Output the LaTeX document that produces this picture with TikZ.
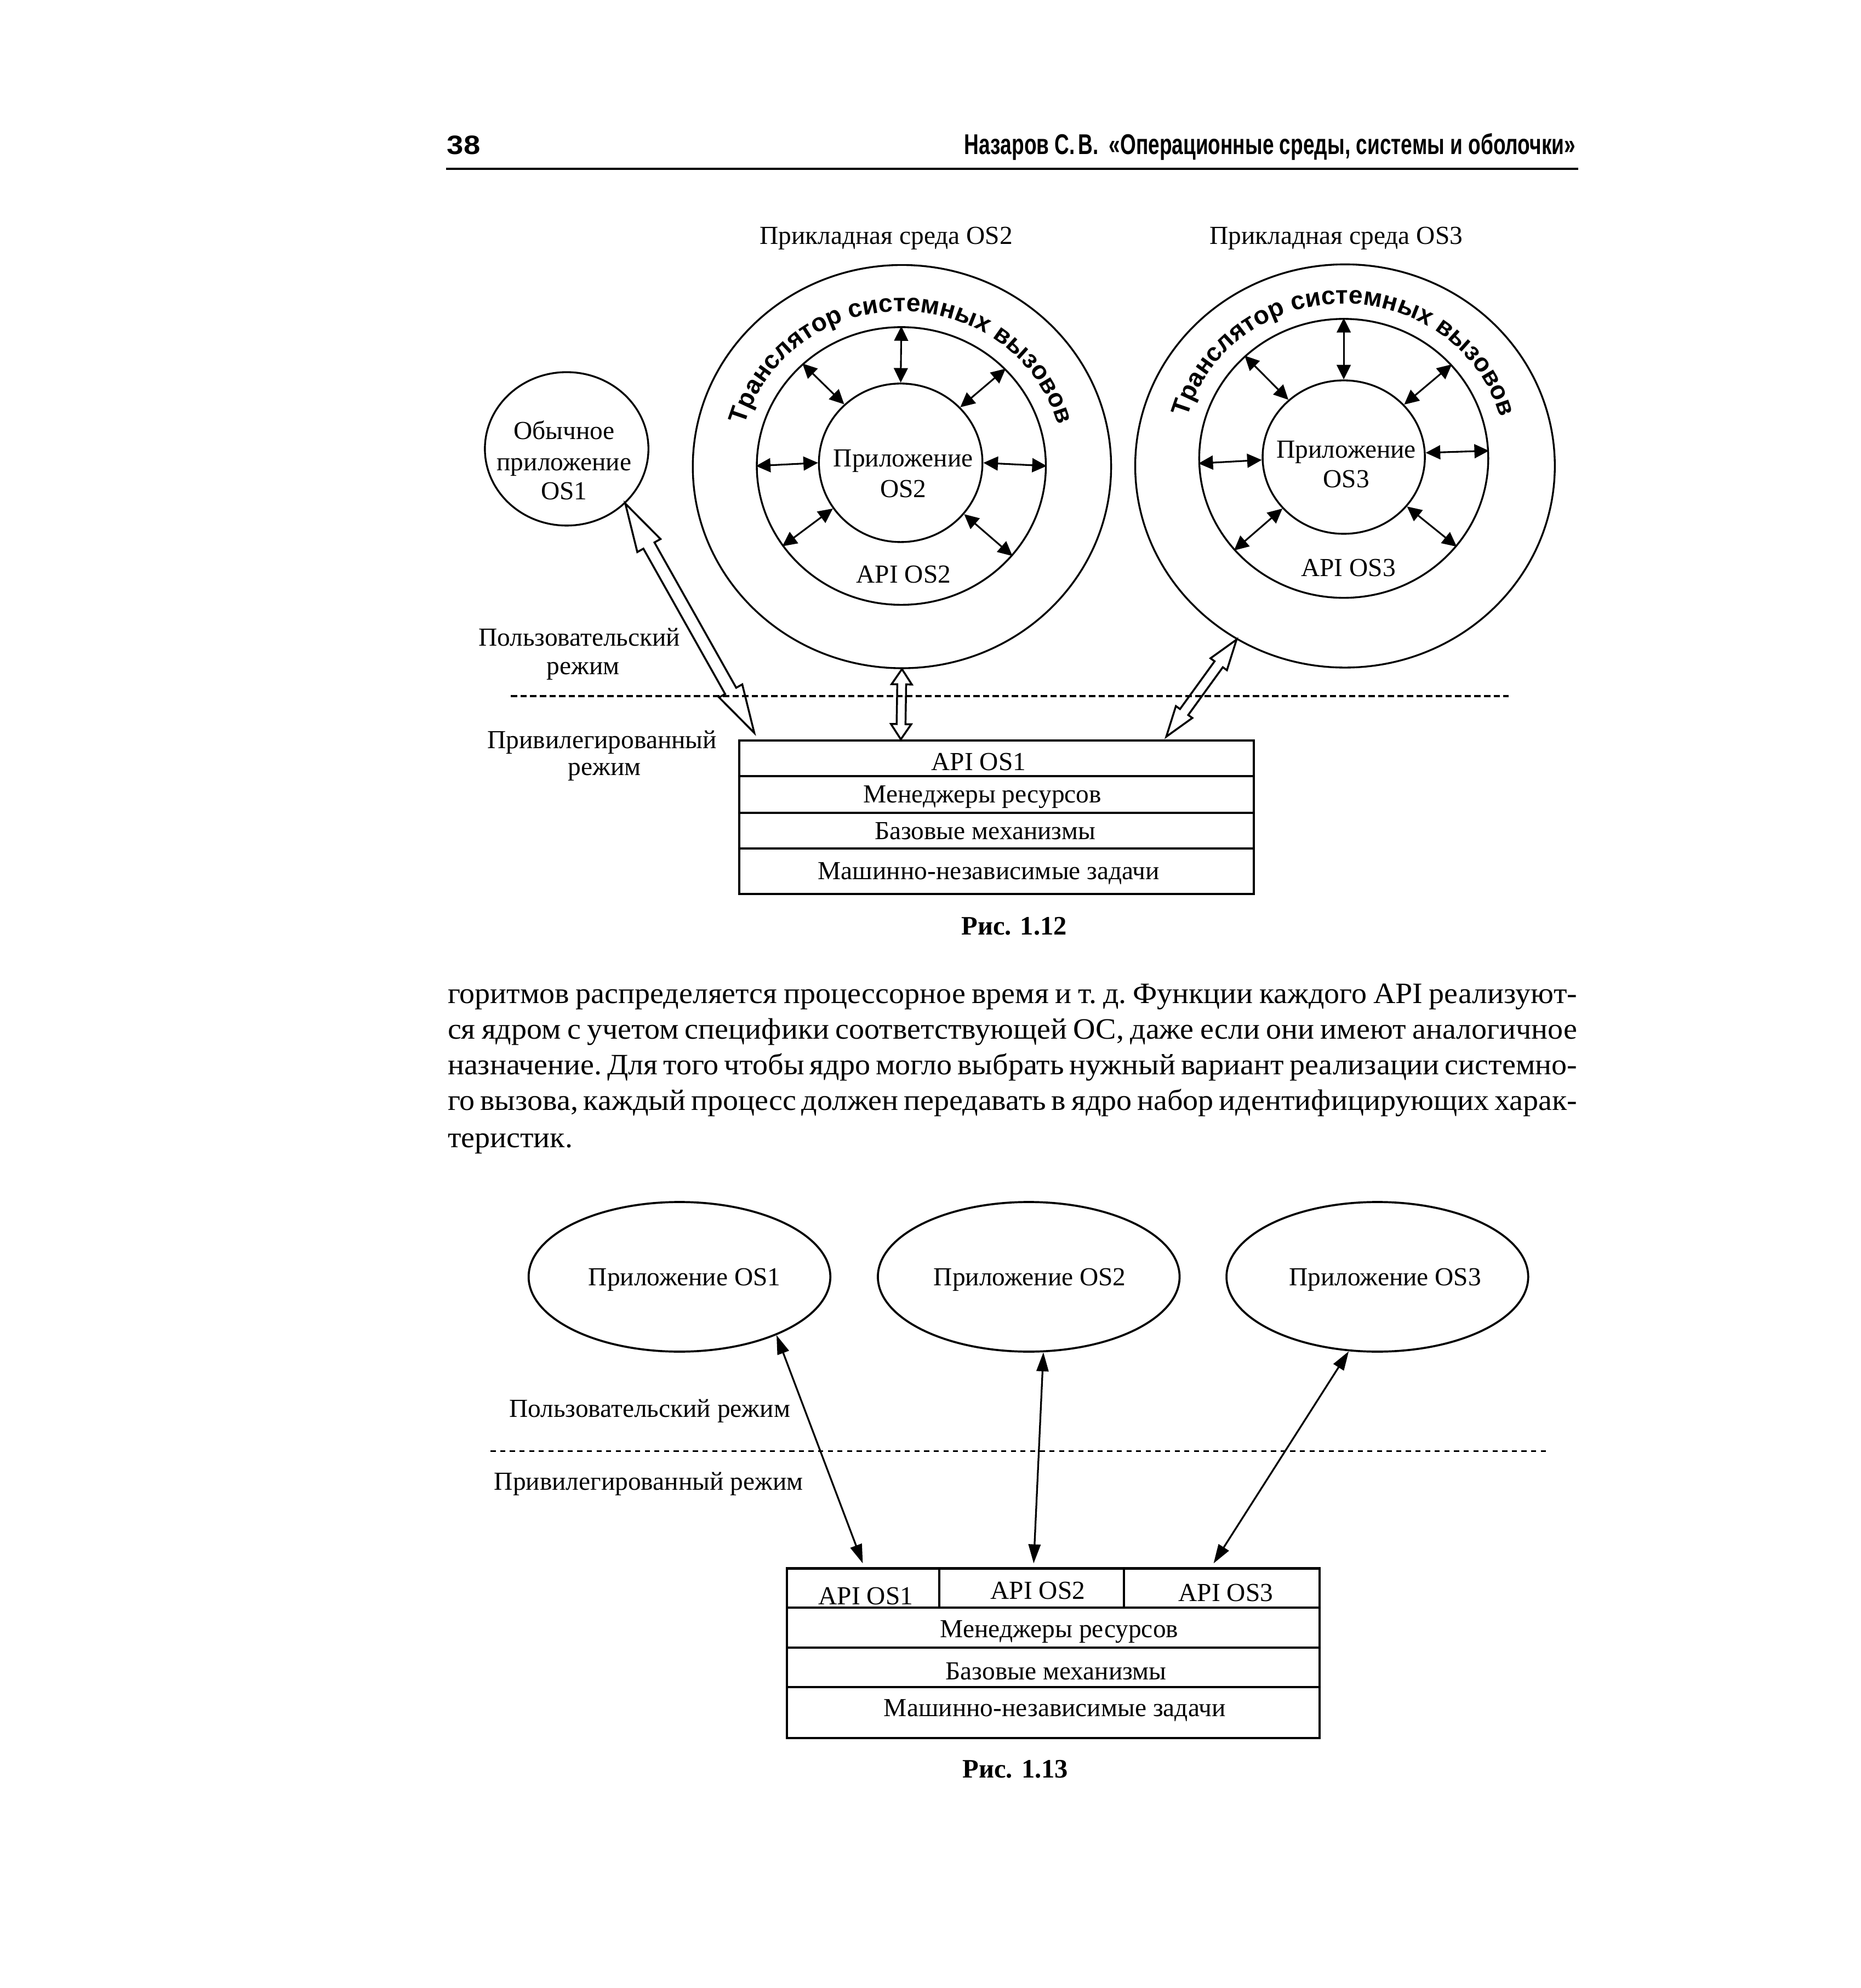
\documentclass[tikz,border=0pt]{standalone}
\usepackage{fontspec}
\usepackage{graphicx}
\setmainfont{Liberation Serif}
\newfontfamily\sansf{Liberation Sans}
\newfontfamily\bodyf[FakeStretch=1.04]{Liberation Serif}
\usetikzlibrary{shapes.geometric,arrows.meta,calc,decorations.text}
\newcommand\trtext{\sansf\bfseries\fontsize{20}{20}\selectfont}
\newcommand\hollowarrow[5]{%
\draw[harrow] (#1)
 -- ($(#1)!#3!(#2)!#4!90:(#2)$)
 -- ($(#1)!#3!(#2)!#5!90:(#2)$)
 -- ($(#2)!#3!(#1)!#5!-90:(#1)$)
 -- ($(#2)!#3!(#1)!#4!-90:(#1)$)
 -- (#2)
 -- ($(#2)!#3!(#1)!#4!90:(#1)$)
 -- ($(#2)!#3!(#1)!#5!90:(#1)$)
 -- ($(#1)!#3!(#2)!#5!-90:(#2)$)
 -- ($(#1)!#3!(#2)!#4!-90:(#2)$)
 -- cycle;}
\tikzset{
  lbl/.style={inner sep=0pt, anchor=base, font=\fontsize{20.5}{24}\selectfont},
  figcap/.style={inner sep=0pt, anchor=base, font=\bfseries\fontsize{21}{24}\selectfont},
  para/.style={inner sep=0pt, anchor=base west, font=\bodyf\fontsize{23.3}{28}\selectfont\frenchspacing},
  ringe/.style={draw, ellipse, line width=1.45pt, inner sep=0pt},
  oval/.style={draw, ellipse, line width=1.6pt, inner sep=0pt, minimum width=238pt, minimum height=118pt},
  radarr/.style={{Triangle[length=11.5pt,width=11pt]}-{Triangle[length=11.5pt,width=11pt]}, line width=1.35pt},
  thinarr/.style={{Triangle[length=15pt,width=9.5pt]}-{Triangle[length=15pt,width=9.5pt]}, line width=1.4pt},
  harrow/.style={draw, line width=1.5pt, line join=miter},
  layer/.style={draw, line width=1.8pt, inner sep=0pt},
  modeline/.style={line width=1.4pt, dash pattern=on 5pt off 2.6pt},
  modeline2/.style={line width=1.6pt, dash pattern=on 4pt off 3.6pt},
  transl/.style={decorate, decoration={text along path, text={|\trtext|Транслятор системных вызовов}, text align={center}}}
}
\begin{document}
\begin{tikzpicture}[x=1pt,y=-1pt]
\useasboundingbox (0,0) rectangle (1468,1567.9);
\fill[white] (0,0) rectangle (1468,1567.9);

% ---------- header ----------
\node[inner sep=0pt, anchor=base west, font=\sansf\bfseries\fontsize{21}{24}\selectfont] (pgnum) at (352.5,121.8) {\scalebox{1.12}[1]{38}};
\node[inner sep=0pt, anchor=base east, font=\sansf\bfseries\fontsize{22.5}{24}\selectfont] (runhead) at (1243,121.5)
  {\resizebox{482pt}{\height}{Назаров С.\,В.\hspace{0.5em}«Операционные среды, системы и оболочки»}};
\coordinate (rulel) at (352,133);
\coordinate (ruler) at (1245,133);
\draw[line width=1.8pt] (rulel) -- (ruler);

% ---------- Fig 1.12 ----------
\node[lbl] (env2) at (699,192.5) {Прикладная среда OS2};
\node[lbl] (env3) at (1054,192.5) {Прикладная среда OS3};

% OS2 environment
\node[ringe, minimum width=330pt, minimum height=318pt] (o2) at (711.5,368) {};
\node[ringe, minimum width=228pt, minimum height=219pt] (m2) at (711,367.5) {};
\node[ringe, minimum width=129pt, minimum height=125pt] (i2) at (710.5,365) {};
\node[lbl] (a2l1) at (712.5,368) {Приложение};
\node[lbl] (a2l2) at (712.5,392.5) {OS2};
\node[lbl] (api2) at (712.8,459.6) {API OS2};
\path[transl] ($(m2.center)+(178:128pt and 122pt)$) arc[start angle=178, end angle=2, x radius=128pt, y radius=122pt];
\foreach \a in {90,134,43,180,0,214,-39}
  \draw[radarr] (i2.\a) -- (m2.\a);

% OS3 environment
\node[ringe, minimum width=331pt, minimum height=318pt] (o3) at (1061,367.5) {};
\node[ringe, minimum width=228pt, minimum height=220pt] (m3) at (1060,361.5) {};
\node[ringe, minimum width=128pt, minimum height=121pt] (i3) at (1060,360.5) {};
\node[lbl] (a3l1) at (1062,361.2) {Приложение};
\node[lbl] (a3l2) at (1062,384.4) {OS3};
\node[lbl] (api3) at (1063.6,454.7) {API OS3};
\path[transl] ($(m3.center)+(178:128pt and 122pt)$) arc[start angle=178, end angle=2, x radius=128pt, y radius=122pt];
\foreach \a in {90,134,41,182,3,220,-38}
  \draw[radarr] (i3.\a) -- (m3.\a);

% ordinary application OS1
\node[ringe, minimum width=129pt, minimum height=121pt] (os1) at (447,354) {};
\node[lbl] (o1l1) at (445,346.5) {Обычное};
\node[lbl] (o1l2) at (445,371) {приложение};
\node[lbl] (o1l3) at (445,394) {OS1};

% mode labels
\node[lbl] (um1) at (457,509.6) {Пользовательский};
\node[lbl] (um2) at (460,532) {режим};
\node[lbl] (pm1) at (475,590.2) {Привилегированный};
\node[lbl] (pm2) at (476.8,611.3) {режим};
\coordinate (dl1) at (403,549);
\coordinate (dr1) at (1190,549);
\draw[modeline] (dl1) -- (dr1);

% kernel box
\node[layer, minimum width=406pt, minimum height=28pt] (k1) at (786,598) {};
\node[layer, minimum width=406pt, minimum height=29pt] (k2) at (786,626.5) {};
\node[layer, minimum width=406pt, minimum height=28pt] (k3) at (786,655) {};
\node[layer, minimum width=406pt, minimum height=36pt] (k4) at (786,687) {};
\node[lbl] (k1t) at (772,607.6) {API OS1};
\node[lbl] (k2t) at (775,633) {Менеджеры ресурсов};
\node[lbl] (k3t) at (777,662) {Базовые механизмы};
\node[lbl] (k4t) at (780,693.7) {Машинно-независимые задачи};

% hollow arrows
\coordinate (h1a) at (os1.-43);
\coordinate (h1b) at (595,578);
\hollowarrow{h1a}{h1b}{38pt}{10.5pt}{5pt}
\coordinate (h2a) at (o2.-90);
\coordinate (h2b) at ($(k1.north west)+(128.5,0)$);
\hollowarrow{h2a}{h2b}{12pt}{8pt}{3.5pt}
\coordinate (h3a) at (o3.-122.4);
\coordinate (h3b) at (920,581);
\hollowarrow{h3a}{h3b}{24pt}{8pt}{4pt}

\node[figcap] (fig12) at (800,737.3) {Рис. 1.12};

% ---------- paragraph ----------
\node[para] (p1) at (353,791.5) {\makebox[891pt][s]{горитмов распределяется процессорное время и т. д. Функции каждого API реализуют-}};
\node[para] (p2) at (353,819.5) {\makebox[891pt][s]{ся ядром с учетом специфики соответствующей ОС, даже если они имеют аналогичное}};
\node[para] (p3) at (353,847.5) {\makebox[891pt][s]{назначение. Для того чтобы ядро могло выбрать нужный вариант реализации системно-}};
\node[para] (p4) at (353,875.5) {\makebox[891pt][s]{го вызова, каждый процесс должен передавать в ядро набор идентифицирующих харак-}};
\node[para] (p5) at (353,905) {теристик.};

% ---------- Fig 1.13 ----------
\node[oval] (e1) at (536,1007) {};
\node[oval] (e2) at (811.5,1007) {};
\node[oval] (e3) at (1086.5,1007) {};
\node[lbl] (e1t) at (540,1014) {Приложение OS1};
\node[lbl] (e2t) at (812.4,1014) {Приложение OS2};
\node[lbl] (e3t) at (1092.7,1014) {Приложение OS3};

\node[lbl] (um3) at (512.5,1117.7) {Пользовательский режим};
\node[lbl] (pm3) at (511.7,1175) {Привилегированный режим};
\coordinate (dl2) at (387,1144.5);
\coordinate (dr2) at (1221,1144.5);
\draw[modeline2] (dl2) -- (dr2);

\node[layer, minimum width=420.2pt, minimum height=31pt] (q1) at (830.7,1252.5) {};
\node[layer, minimum width=420.2pt, minimum height=31.6pt] (q2) at (830.7,1283.8) {};
\node[layer, minimum width=420.2pt, minimum height=30.9pt] (q3) at (830.7,1315) {};
\node[layer, minimum width=420.2pt, minimum height=40.3pt] (q4) at (830.7,1350.6) {};
\draw[line width=1.4pt] ($(q1.north west)+(121.2,0)$) -- ($(q1.south west)+(121.2,-2)$);
\draw[line width=1.4pt] ($(q1.north west)+(266.9,0)$) -- ($(q1.south west)+(266.9,-2)$);
\node[lbl] (q1a) at (683,1265.4) {API OS1};
\node[lbl] (q1b) at (818.7,1261) {API OS2};
\node[lbl] (q1c) at (967,1263) {API OS3};
\node[lbl] (q2t) at (835.6,1291.5) {Менеджеры ресурсов};
\node[lbl] (q3t) at (833,1324.6) {Базовые механизмы};
\node[lbl] (q4t) at (832,1353.7) {Машинно-независимые задачи};

\coordinate (t1) at (680.6,1233);
\coordinate (t2) at (815.4,1233);
\coordinate (t3) at (957.3,1233);
\draw[thinarr] (e1.-31) -- (t1);
\draw[thinarr] (e2.-79) -- (t2);
\draw[thinarr] (e3.-111) -- (t3);

\node[figcap] (fig13) at (801,1402) {Рис. 1.13};
\end{tikzpicture}
\end{document}
